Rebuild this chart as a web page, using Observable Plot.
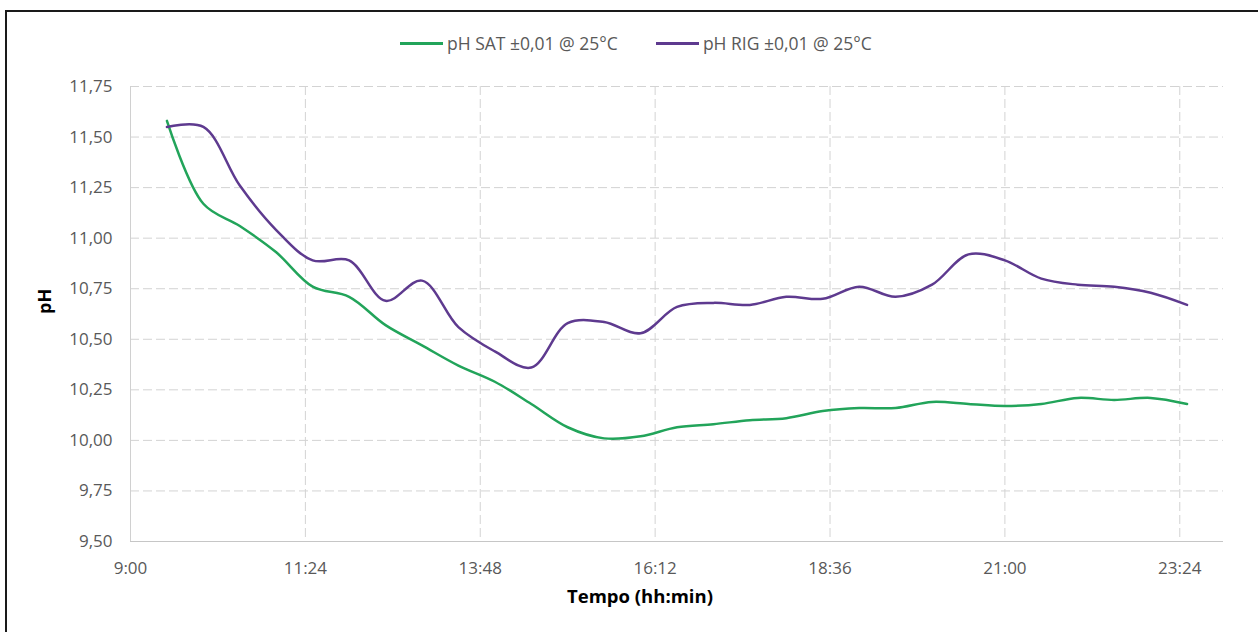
<!DOCTYPE html>
<html>
<head>
<meta charset="utf-8">
<script src="https://cdn.jsdelivr.net/npm/d3@7"></script>
<script src="https://cdn.jsdelivr.net/npm/@observablehq/plot@0.6"></script>
<style>
  body { margin: 0; background: #fff; }
  #wrap { position: relative; width: 1258px; height: 632px; overflow: hidden; background: #fff; font-family: "Open Sans", sans-serif; }
  #border { position: absolute; left: 5px; top: 10px; width: 1400px; height: 800px; border-left: 2px solid #1a1a1a; border-top: 2px solid #1a1a1a; }
  #chart { position: absolute; left: 0; top: 0; }
  #legend { position: absolute; top: 31px; left: 400px; display: flex; align-items: center; font-size: 17.5px; color: #595959; white-space: nowrap; }
  .item { display: flex; align-items: center; }
  .swatch { width: 43px; height: 3px; margin-right: 4px; }
</style>
</head>
<body>
<div id="wrap">
  <div id="border"></div>
  <div id="chart"></div>
  <div id="legend"></div>
</div>
<script>
const times = [9.5, 10, 10.5, 11, 11.5, 12, 12.5, 13, 13.5, 14, 14.5, 15, 15.5, 16, 16.5, 17, 17.5, 18, 18.5, 19, 19.5, 20, 20.5, 21, 21.5, 22, 22.5, 23, 23.5];
const satValues = [11.58, 11.17, 11.06, 10.93, 10.76, 10.71, 10.57, 10.47, 10.37, 10.29, 10.18, 10.065, 10.01, 10.02, 10.065, 10.08, 10.10, 10.11, 10.145, 10.16, 10.16, 10.19, 10.18, 10.17, 10.18, 10.21, 10.20, 10.21, 10.18];
const rigValues = [11.55, 11.55, 11.26, 11.04, 10.89, 10.89, 10.69, 10.79, 10.56, 10.44, 10.36, 10.58, 10.585, 10.53, 10.66, 10.68, 10.67, 10.71, 10.70, 10.76, 10.71, 10.77, 10.92, 10.89, 10.80, 10.77, 10.76, 10.73, 10.67];
const seriesNames = ["pH SAT ±0,01 @ 25°C", "pH RIG ±0,01 @ 25°C"];
const seriesColors = ["#22a45a", "#5e3a8f"];
const xTicks = [9, 11.4, 13.8, 16.2, 18.6, 21, 23.4];
const xTickLabels = ["9:00", "11:24", "13:48", "16:12", "18:36", "21:00", "23:24"];
const yTicks = [9.5, 9.75, 10, 10.25, 10.5, 10.75, 11, 11.25, 11.5, 11.75];
const yTickLabels = ["9,50", "9,75", "10,00", "10,25", "10,50", "10,75", "11,00", "11,25", "11,50", "11,75"];
const xTitle = "Tempo (hh:min)";
const yTitle = "pH";

const data = [];
times.forEach((t, i) => {
  data.push({t, v: satValues[i], s: seriesNames[0]});
});
times.forEach((t, i) => {
  data.push({t, v: rigValues[i], s: seriesNames[1]});
});

const gridStyle = {stroke: "#d3d3d3", strokeOpacity: 1, strokeWidth: 1, strokeDasharray: "9,4"};

const chart = Plot.plot({
  width: 1258,
  height: 632,
  marginLeft: 130,
  marginRight: 35,
  marginTop: 86,
  marginBottom: 91,
  style: {fontFamily: "'Open Sans', sans-serif", fontSize: "17px", color: "#595959", background: "transparent", overflow: "visible"},
  x: {domain: [9, 24]},
  y: {domain: [9.5, 11.75]},
  color: {domain: seriesNames, range: seriesColors},
  marks: [
    Plot.gridY(yTicks.slice(1), gridStyle),
    Plot.gridX(xTicks.slice(1), gridStyle),
    Plot.ruleX([xTicks[0]], {stroke: "#d0d0d0", strokeWidth: 1}),
    Plot.ruleY([yTicks[0]], {stroke: "#c6c6c6", strokeWidth: 1}),
    Plot.axisY(yTicks, {tickSize: 0, tickPadding: 18, fontSize: 17, fill: "#595959",
      tickFormat: d => yTickLabels[yTicks.indexOf(d)], label: null}),
    Plot.axisX(xTicks, {tickSize: 0, tickPadding: 20, fontSize: 17, fill: "#595959",
      tickFormat: d => xTickLabels[xTicks.indexOf(d)], label: null}),
    Plot.text([yTitle], {frameAnchor: "left", dx: -85, rotate: -90, fontWeight: "bold", fontSize: 18, fill: "#000"}),
    Plot.text([xTitle], {frameAnchor: "bottom", dx: -37, dy: 61, fontWeight: "bold", fontSize: 18.5, fill: "#000"}),
    Plot.line(data, {x: "t", y: "v", z: "s", stroke: "s", strokeWidth: 2.5, curve: "catmull-rom"})
  ]
});
document.getElementById("chart").appendChild(chart);

const legend = document.getElementById("legend");
seriesNames.forEach((name, i) => {
  const item = document.createElement("div");
  item.className = "item";
  if (i > 0) item.style.marginLeft = "38px";
  const sw = document.createElement("span");
  sw.className = "swatch";
  sw.style.background = seriesColors[i];
  const label = document.createElement("span");
  label.textContent = name;
  item.appendChild(sw);
  item.appendChild(label);
  legend.appendChild(item);
});
</script>
</body>
</html>
